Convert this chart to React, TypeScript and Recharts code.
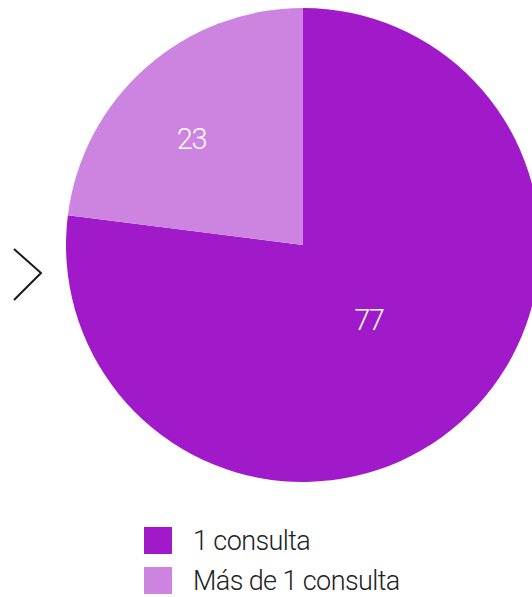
import React from "react";
import { PieChart, Pie, Cell, Legend } from "recharts";

const categories = ["1 consulta", "Más de 1 consulta"];
const values = [77, 23];
const colors = ["#A11ACA", "#CD84E1"];
const labelRadiusRatio = [0.42, 0.65];
const labelAngleShift = [0, 5];

const data = categories.map((name, i) => ({ name, value: values[i] }));

const RAD = Math.PI / 180;

const renderLabel = (props: any) => {
  const { cx, cy, midAngle, outerRadius, index, value } = props;
  const r = outerRadius * labelRadiusRatio[index];
  const a = midAngle + labelAngleShift[index];
  const x = cx + r * Math.cos(-a * RAD);
  const y = cy + r * Math.sin(-a * RAD);
  return (
    <text
      x={x}
      y={y}
      fill="#ffffff"
      textAnchor="middle"
      dominantBaseline="central"
      fontFamily="Roboto"
      fontWeight={300}
      fontSize={29}
      letterSpacing={-1.5}
    >
      {value}
    </text>
  );
};

const renderLegend = () => (
  <div style={{ fontFamily: "Roboto", fontWeight: 300 }}>
    {categories.map((c, i) => (
      <div
        key={c}
        style={{ display: "flex", alignItems: "center", height: 40 }}
      >
        <div
          style={{ width: 28, height: 27, background: colors[i], marginRight: 21 }}
        />
        <span style={{ fontSize: 27, color: "#222", letterSpacing: -0.6, position: "relative", top: 1 }}>{c}</span>
      </div>
    ))}
  </div>
);

export default function App() {
  return (
    <div
      style={{
        position: "fixed",
        top: 0,
        left: 0,
        width: 532,
        height: 597,
        background: "#fff",
        overflow: "hidden",
      }}
    >
      <PieChart width={532} height={597} margin={{ top: 0, right: 0, bottom: 0, left: 0 }}>
        <Pie
          data={data}
          dataKey="value"
          nameKey="name"
          cx={303}
          cy={245}
          outerRadius={237}
          startAngle={90}
          endAngle={-270}
          stroke="none"
          label={renderLabel}
          labelLine={false}
          isAnimationActive={false}
        >
          {data.map((d, i) => (
            <Cell key={d.name} fill={colors[i]} />
          ))}
        </Pie>
        <Legend
          content={renderLegend}
          wrapperStyle={{ position: "absolute", left: 144, top: 520, width: 380 }}
        />
      </PieChart>
      <svg
        width={60}
        height={80}
        style={{ position: "absolute", left: 0, top: 230 }}
      >
        <polyline
          points="14,19 41,43 14,70"
          fill="none"
          stroke="#1a1a1a"
          strokeWidth={2}
        />
      </svg>
    </div>
  );
}
